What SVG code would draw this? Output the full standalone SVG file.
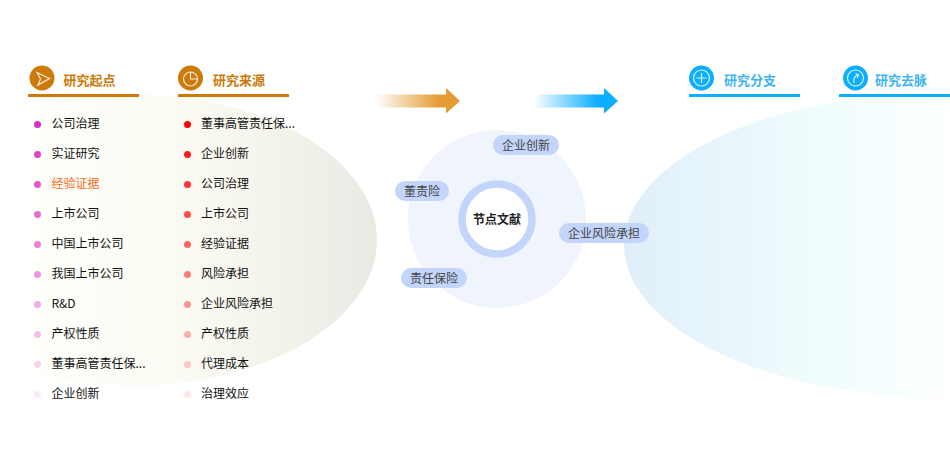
<svg xmlns="http://www.w3.org/2000/svg" width="950" height="462" viewBox="0 0 950 462">
<style>
text{font-family:"Noto Sans CJK SC","Liberation Sans",sans-serif}
.i{font-size:12px;fill:#111}
.ho{font-size:13px;font-weight:700;fill:#cc7a0a}
.hb{font-size:13px;font-weight:700;fill:#3fb4f5}
.t{font-size:12px;fill:#444;text-anchor:middle}
.p{fill:#c3d5fb}
.ic{fill:none;stroke:#fff;stroke-opacity:.85;stroke-width:1.2}
</style>
<defs>
<clipPath id="cl"><rect x="28" y="0" width="360" height="462"/></clipPath>
<linearGradient id="gl" gradientUnits="userSpaceOnUse" x1="28" y1="0" x2="377" y2="0"><stop offset="0" stop-color="#fffffb"/><stop offset=".45" stop-color="#fbfbf3"/><stop offset=".75" stop-color="#f2f1ea"/><stop offset="1" stop-color="#ebe9e3"/></linearGradient>
<linearGradient id="gr" gradientUnits="userSpaceOnUse" x1="624" y1="0" x2="950" y2="0"><stop offset="0" stop-color="#e0eefa"/><stop offset=".55" stop-color="#eefcfd"/><stop offset="1" stop-color="#feffff"/></linearGradient>
<linearGradient id="ao" gradientUnits="userSpaceOnUse" x1="376" y1="0" x2="460" y2="0"><stop offset="0" stop-color="#e69c34" stop-opacity="0"/><stop offset=".75" stop-color="#e69c34"/></linearGradient>
<linearGradient id="ab" gradientUnits="userSpaceOnUse" x1="534" y1="0" x2="618" y2="0"><stop offset="0" stop-color="#0eaeff" stop-opacity="0"/><stop offset=".75" stop-color="#0eaeff"/></linearGradient>
</defs>
<g id="backgrounds">
<ellipse cx="130" cy="240" rx="247" ry="146" fill="url(#gl)" clip-path="url(#cl)"/>
<ellipse cx="950" cy="245" rx="326" ry="153" fill="url(#gr)"/>
</g>
<g id="connectors">
<path d="M376 94.500H446V88L460 101L446 113.500V107.500H376Z" fill="url(#ao)"/>
<path d="M534 94.500H604V88L618 101L604 113.500V107.500H534Z" fill="url(#ab)"/>
</g>
<g id="head-origin">
<rect x="28" y="94" width="111" height="3" fill="#cc7a0a"/><circle cx="42" cy="78" r="12.500" fill="#cc7a0a"/>
<path class="ic" d="M37 72.500L49.500 78.500L38 85L40.500 79Z"/>
<text class="ho" x="63.500" y="85">研究起点</text>
</g>
<g id="head-source">
<rect x="178" y="94" width="111" height="3" fill="#cc7a0a"/><circle cx="190.500" cy="78" r="12.500" fill="#cc7a0a"/>
<circle class="ic" cx="190.500" cy="79" r="7"/><path class="ic" d="M190.500 72V79H197"/>
<text class="ho" x="213" y="85">研究来源</text>
</g>
<g id="head-branch">
<rect x="689" y="94" width="111" height="3" fill="#0eaeff"/><circle cx="701.500" cy="78" r="12.500" fill="#0eaeff"/>
<circle class="ic" cx="701.500" cy="78" r="8"/><path class="ic" d="M701.500 73V83M696.500 78H706.500" stroke-width="1"/>
<text class="hb" x="724" y="85">研究分支</text>
</g>
<g id="head-trend">
<rect x="839" y="94" width="111" height="3" fill="#0eaeff"/><circle cx="855.500" cy="78" r="12.500" fill="#0eaeff"/>
<circle class="ic" cx="855.500" cy="78" r="8"/><path class="ic" d="M854 83Q853 76 858 75M855.500 73.500L858.500 75L857 78"/>
<text class="hb" x="875" y="85">研究去脉</text>
</g>
<g id="list-origin">
<g fill="#dc2dc6">
<circle cx="37.500" cy="124.500" r="3.500"/>
<circle cx="37.500" cy="154.500" r="3.500" opacity=".9"/>
<circle cx="37.500" cy="184.500" r="3.500" opacity=".8"/>
<circle cx="37.500" cy="214.500" r="3.500" opacity=".7"/>
<circle cx="37.500" cy="244.500" r="3.500" opacity=".6"/>
<circle cx="37.500" cy="274.500" r="3.500" opacity=".5"/>
<circle cx="37.500" cy="304.500" r="3.500" opacity=".4"/>
<circle cx="37.500" cy="334.500" r="3.500" opacity=".3"/>
<circle cx="37.500" cy="364.500" r="3.500" opacity=".2"/>
<circle cx="37.500" cy="394.500" r="3.500" opacity=".1"/>
</g>
<text class="i" x="51.500" y="128">公司治理</text>
<text class="i" x="51.500" y="158">实证研究</text>
<text class="i" x="51.500" y="188" style="fill:#ff6a1a">经验证据</text>
<text class="i" x="51.500" y="218">上市公司</text>
<text class="i" x="51.500" y="248">中国上市公司</text>
<text class="i" x="51.500" y="278">我国上市公司</text>
<text class="i" x="51.500" y="308">R&amp;D</text>
<text class="i" x="51.500" y="338">产权性质</text>
<text class="i" x="51.500" y="368">董事高管责任保...</text>
<text class="i" x="51.500" y="398">企业创新</text>
</g>
<g id="list-source">
<g fill="#ff0000">
<circle cx="187.500" cy="124.500" r="3.500"/>
<circle cx="187.500" cy="154.500" r="3.500" opacity=".9"/>
<circle cx="187.500" cy="184.500" r="3.500" opacity=".8"/>
<circle cx="187.500" cy="214.500" r="3.500" opacity=".7"/>
<circle cx="187.500" cy="244.500" r="3.500" opacity=".6"/>
<circle cx="187.500" cy="274.500" r="3.500" opacity=".5"/>
<circle cx="187.500" cy="304.500" r="3.500" opacity=".4"/>
<circle cx="187.500" cy="334.500" r="3.500" opacity=".3"/>
<circle cx="187.500" cy="364.500" r="3.500" opacity=".2"/>
<circle cx="187.500" cy="394.500" r="3.500" opacity=".1"/>
</g>
<text class="i" x="201" y="128">董事高管责任保...</text>
<text class="i" x="201" y="158">企业创新</text>
<text class="i" x="201" y="188">公司治理</text>
<text class="i" x="201" y="218">上市公司</text>
<text class="i" x="201" y="248">经验证据</text>
<text class="i" x="201" y="278">风险承担</text>
<text class="i" x="201" y="308">企业风险承担</text>
<text class="i" x="201" y="338">产权性质</text>
<text class="i" x="201" y="368">代理成本</text>
<text class="i" x="201" y="398">治理效应</text>
</g>
<g id="center">
<circle cx="497" cy="219" r="89" fill="#eff4fd"/>
<circle cx="497" cy="219" r="35" fill="#fff" stroke="#c3d5fb" stroke-width="7.500"/>
<text x="497" y="224" style="font-size:12px;font-weight:700;fill:#222;text-anchor:middle">节点文献</text>
</g>
<g id="tag-1"><rect class="p" x="493" y="135" width="66" height="20" rx="10"/><text class="t" x="526" y="150">企业创新</text></g>
<g id="tag-2"><rect class="p" x="395" y="181" width="54" height="20" rx="10"/><text class="t" x="422" y="196">董责险</text></g>
<g id="tag-3"><rect class="p" x="559" y="223" width="90" height="20" rx="10"/><text class="t" x="604" y="238">企业风险承担</text></g>
<g id="tag-4"><rect class="p" x="401" y="268" width="66" height="20" rx="10"/><text class="t" x="434" y="283">责任保险</text></g>
</svg>
